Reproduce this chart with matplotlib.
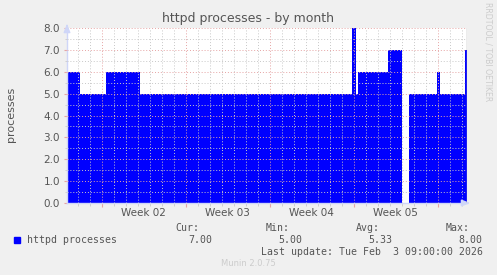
import numpy as np
import matplotlib
matplotlib.use("Agg")
import matplotlib.pyplot as plt
from matplotlib.transforms import blended_transform_factory

# ── Data (days since start of graph, value) ─────────────────
seg_start = [0.0, 1.11, 3.27, 6.08, 23.75, 24.08, 24.25, 26.75, 27.92, 28.50, 30.83, 31.08, 33.17]
seg_value = [6, 5, 6, 5, 8, 5, 6, 7, np.nan, 5, 6, 5, 7]
t_end = 33.33

week_bounds = [2.89, 9.89, 16.89, 23.89, 30.89]
week_labels = ["Week 02", "Week 03", "Week 04", "Week 05"]
day_lines = [0.89 + i for i in range(33)]

legend_name = "httpd processes"
stats_names = ["Cur:", "Min:", "Avg:", "Max:"]
stats_vals = [7.00, 5.00, 5.33, 8.00]
last_update = "Last update: Tue Feb  3 09:00:00 2026"

# ── Colours ─────────────────────────────────────────────────
BACK   = "#f0f0f0"
FONT   = "#555555"
AXISC  = "#cfd6f8"
MGRID  = "#e6a4a4"
GRID   = "#c8c8c8"
BLUE   = "#0000ff"

W, H = 497, 275
fig = plt.figure(figsize=(W / 100, H / 100), dpi=100, facecolor=BACK)

def px(x, y):
    return x / W, 1 - y / H

ax = fig.add_axes([67 / W, (H - 203) / H, 400 / W, 175 / H])
ax.set_facecolor("white")
ax.set_xlim(0, t_end)
ax.set_ylim(0, 8)

# step polygon
xs, ys = [], []
for i, (t, v) in enumerate(zip(seg_start, seg_value)):
    t2 = seg_start[i + 1] if i + 1 < len(seg_start) else t_end
    xs += [t, t2]
    ys += [v, v]
xs = np.array(xs)
ys = np.array(ys, dtype=float)
ax.fill_between(xs, 0, ys, color=BLUE, linewidth=0, zorder=1)

# grid over the data
dot = (0, (1, 2))
for y in np.arange(0.5, 8, 1.0):
    ax.axhline(y, color=GRID, lw=0.7, ls=dot, zorder=3)
for d in day_lines:
    if d < t_end and all(abs(d - w) > 0.01 for w in week_bounds):
        ax.axvline(d, color=GRID, lw=0.7, ls=dot, zorder=3)
for y in range(0, 9):
    ax.axhline(y, color=MGRID, lw=0.7, ls=dot, zorder=3)
for w in week_bounds:
    ax.axvline(w, color=MGRID, lw=0.7, ls=dot, zorder=3)
ax.axvline(t_end, color="#a0a0a0", lw=1.0, zorder=4)

for s in ("top", "right"):
    ax.spines[s].set_visible(False)
for s in ("left", "bottom"):
    ax.spines[s].set_color(AXISC)
    ax.spines[s].set_linewidth(1.0)
    ax.spines[s].set_zorder(2)

ax.set_yticks(range(0, 9))
ax.set_yticklabels([f"{v:.1f}" for v in range(0, 9)])
ax.set_yticks(np.arange(0.5, 8, 1.0), minor=True)
ax.tick_params(axis="y", which="major", length=2, color=MGRID, labelsize=7.5,
               labelcolor=FONT, pad=3)
ax.tick_params(axis="y", which="minor", length=1.5, color=GRID)
ax.set_xticks(week_bounds)
ax.set_xticklabels([])
ax.set_xticks([d for d in day_lines if d < t_end], minor=True)
ax.tick_params(axis="x", which="major", length=3, color=MGRID)
ax.tick_params(axis="x", which="minor", length=2, color=GRID)

tr = blended_transform_factory(ax.transData, fig.transFigure)
for i, lab in enumerate(week_labels):
    mid = (week_bounds[i] + week_bounds[i + 1]) / 2
    ax.text(mid, 1 - 212.5 / H, lab, transform=tr, ha="center", va="center",
            fontsize=7.5, color=FONT)

# arrows
ax.annotate("", xy=(0, 1.04), xytext=(0, 0.99), xycoords="axes fraction",
            arrowprops=dict(arrowstyle="-|>,head_length=0.5,head_width=0.2",
                            color=AXISC, lw=1), annotation_clip=False)
ax.annotate("", xy=(1.015, 0), xytext=(0.99, 0), xycoords="axes fraction",
            arrowprops=dict(arrowstyle="-|>,head_length=0.5,head_width=0.2",
                            color=AXISC, lw=1), annotation_clip=False)

# titles
fig.text(*px(248, 18.5), "httpd processes - by month", ha="center", va="center",
         fontsize=9, color=FONT)
fig.text(*px(11, 114.5), "processes", rotation=90, ha="center", va="center",
         fontsize=8, color=FONT)
fig.text(*px(488, 52), "RRDTOOL / TOBI OETIKER", rotation=270, ha="center",
         va="center", fontsize=5.6, color="#cccccc")

# legend
mono = dict(family="DejaVu Sans Mono", fontsize=7.1, color=FONT, va="center")
fig.patches.append(plt.Rectangle(px(14, 242.7), 6 / W, 5.4 / H, color=BLUE,
                                 transform=fig.transFigure, figure=fig))
fig.text(*px(26.7, 240), legend_name, ha="left", **mono)
name_right = [199, 289.3, 380, 470]
val_right = [212, 302.3, 392.7, 482.7]
for n, v, nr, vr in zip(stats_names, stats_vals, name_right, val_right):
    fig.text(*px(nr, 228.3), n, ha="right", **mono)
    fig.text(*px(vr, 240), f"{v:.2f}", ha="right", **mono)
fig.text(*px(482.7, 251.7), last_update, ha="right", **mono)
fig.text(*px(248, 264), "Munin 2.0.75", ha="center", va="center",
         fontsize=6, color="#cccccc")

fig.savefig("out.png", dpi=100, facecolor=BACK)
